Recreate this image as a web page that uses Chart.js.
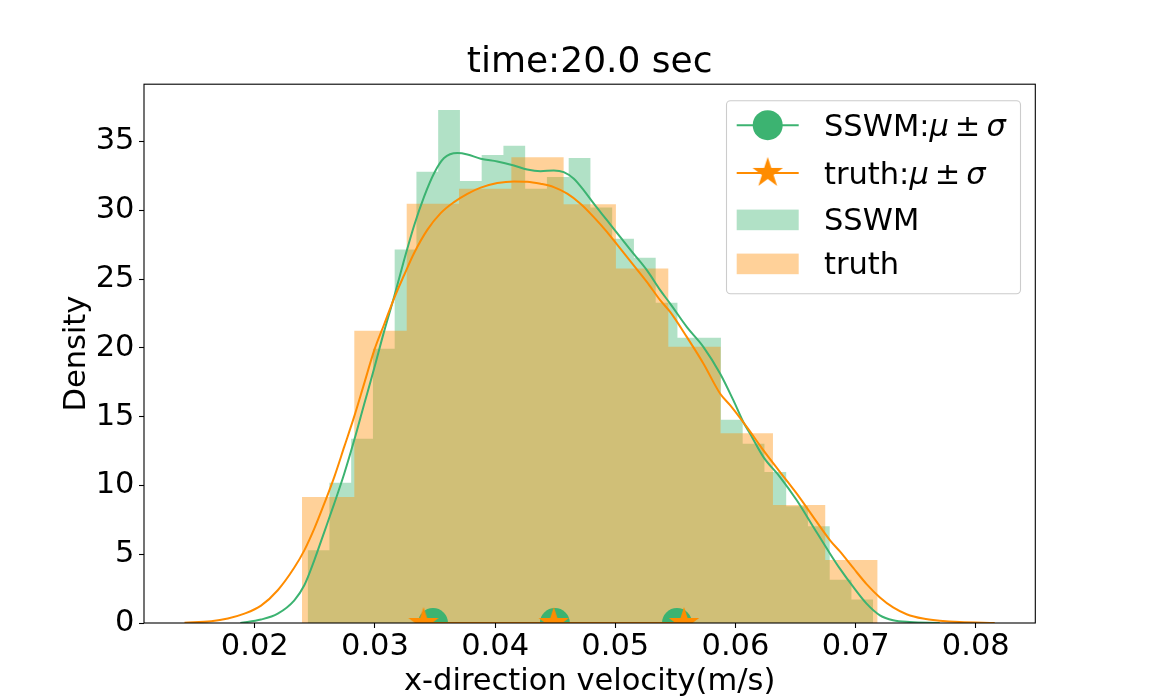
<!DOCTYPE html>
<html>
<head>
<meta charset="utf-8">
<title>time:20.0 sec</title>
<script src="https://cdn.jsdelivr.net/npm/chart.js@4.4.0/dist/chart.umd.min.js"></script>
<style>
html, body { margin: 0; padding: 0; background: #fff; }
#wrap { width: 1150px; height: 700px; }
</style>
</head>
<body>
<div id="wrap"><canvas id="chart" width="1150" height="700"></canvas></div>
<script>
// histogram bin edges and densities
var sswmEdges = [0.02440, 0.02621, 0.02802, 0.02983, 0.03164, 0.03345, 0.03526, 0.03707, 0.03888,
                 0.04069, 0.04250, 0.04431, 0.04612, 0.04793, 0.04974, 0.05155, 0.05336, 0.05517,
                 0.05698, 0.05879, 0.06060, 0.06241, 0.06422, 0.06603, 0.06784, 0.06965, 0.07146];
var sswmDensity = [5.28, 10.20, 13.39, 19.93, 27.15, 32.80, 37.30, 32.14, 34.03, 34.69, 31.57, 32.43, 33.80,
                   30.20, 27.93, 26.55, 23.28, 20.74, 20.74, 14.78, 13.03, 10.97, 8.48, 7.03, 3.15, 1.70];
var truthEdges = [0.02393, 0.02828, 0.03264, 0.03699, 0.04135, 0.04570, 0.05005, 0.05441,
                  0.05876, 0.06312, 0.06747, 0.07183];
var truthDensity = [9.16, 21.25, 30.47, 31.57, 33.86, 30.45, 25.78, 20.08, 13.79, 8.58, 4.58];

// kde curves
var sswmKdeX = [0.01880, 0.02052, 0.02191, 0.02329, 0.02412, 0.02495, 0.02578, 0.02661, 0.02744, 0.02827,
                0.02910, 0.02993, 0.03076, 0.03159, 0.03243, 0.03326, 0.03409, 0.03492, 0.03575, 0.03686,
                0.03769, 0.03880, 0.04018, 0.04156, 0.04267, 0.04378, 0.04488, 0.04571, 0.04655, 0.04738,
                0.04821, 0.04932, 0.05042, 0.05153, 0.05264, 0.05375, 0.05458, 0.05596, 0.05734, 0.05873,
                0.05983, 0.06066, 0.06122, 0.06233, 0.06371, 0.06510, 0.06648, 0.06787, 0.06869, 0.06980,
                0.07091, 0.07202, 0.07312, 0.07451, 0.07700];
var sswmKdeY = [0.00, 0.25, 0.68, 1.65, 2.74, 4.56, 6.61, 8.68, 10.85, 13.28,
                15.90, 18.50, 21.20, 23.70, 26.40, 28.90, 31.00, 32.70, 33.80, 34.16,
                34.06, 33.75, 33.55, 33.26, 32.97, 32.85, 32.90, 32.78, 32.30, 31.45,
                30.48, 29.27, 28.05, 26.84, 25.63, 24.18, 23.20, 21.51, 20.06, 18.12,
                16.18, 14.60, 13.76, 12.06, 10.61, 8.92, 6.98, 5.04, 3.95, 2.62,
                1.41, 0.56, 0.20, 0.07, 0.00];
var truthKdeX = [0.01415, 0.01637, 0.01776, 0.01914, 0.02052, 0.02191, 0.02329, 0.02412, 0.02495, 0.02578,
                 0.02661, 0.02744, 0.02827, 0.02910, 0.02993, 0.03076, 0.03159, 0.03243, 0.03326, 0.03437,
                 0.03547, 0.03658, 0.03769, 0.03880, 0.04018, 0.04156, 0.04267, 0.04378, 0.04488, 0.04600,
                 0.04710, 0.04821, 0.04932, 0.05042, 0.05153, 0.05264, 0.05375, 0.05458, 0.05596, 0.05734,
                 0.05873, 0.05957, 0.06095, 0.06233, 0.06371, 0.06510, 0.06648, 0.06787, 0.06869, 0.06980,
                 0.07091, 0.07202, 0.07312, 0.07424, 0.07561, 0.07700, 0.07866, 0.08157];
var truthKdeY = [0.02, 0.13, 0.33, 0.68, 1.26, 2.38, 4.03, 5.28, 6.86, 8.68,
                 10.61, 12.80, 15.00, 17.40, 19.80, 21.70, 23.60, 25.30, 26.90, 28.60,
                 29.80, 30.60, 31.20, 31.65, 31.98, 32.10, 32.08, 31.93, 31.69, 31.21,
                 30.48, 29.51, 28.42, 27.21, 26.00, 24.78, 23.45, 22.60, 20.78, 18.85,
                 16.67, 15.82, 14.24, 12.55, 10.97, 9.40, 7.70, 6.01, 5.20, 4.00,
                 2.83, 1.86, 1.13, 0.64, 0.32, 0.17, 0.07, 0.00];

// mean - sd, mean, mean + sd
var sswmStats = [0.03483, 0.04497, 0.05513];
var truthStats = [0.03404, 0.04488, 0.05572];

var xTicks = [0.02, 0.03, 0.04, 0.05, 0.06, 0.07, 0.08];
var yTicks = [0, 5, 10, 15, 20, 25, 30, 35];

var GREEN = '#3cb371', ORANGE = '#ff8c00';
var FONT = 'DejaVu Sans';

function histPoints(edges, dens) {
    return edges.map(function (e, i) { return {x: e, y: i < dens.length ? dens[i] : 0}; });
}
function xyPoints(xs, ys) {
    return xs.map(function (x, i) { return {x: x, y: ys[i]}; });
}
function statPoints(vals) {
    return vals.map(function (v) { return {x: v, y: 0}; });
}

// filled five point star like matplotlib's '*'
function makeStar(r, color) {
    var c = document.createElement('canvas');
    var size = Math.ceil(r * 2) + 2;
    c.width = size; c.height = size;
    var g = c.getContext('2d');
    g.fillStyle = color;
    g.beginPath();
    for (var i = 0; i < 10; i++) {
        var rad = i % 2 === 0 ? r : r * 0.381966;
        var a = -Math.PI / 2 + i * Math.PI / 5;
        var px = size / 2 + rad * Math.cos(a), py = size / 2 + rad * Math.sin(a);
        if (i === 0) g.moveTo(px, py); else g.lineTo(px, py);
    }
    g.closePath();
    g.fill();
    return c;
}
var starImg = makeStar(16, ORANGE);

// axes frame on all four sides
var framePlugin = {
    id: 'frame',
    afterDatasetsDraw: function (chart) {
        var a = chart.chartArea, ctx = chart.ctx;
        ctx.save();
        ctx.strokeStyle = '#000';
        ctx.lineWidth = 1.1;
        ctx.strokeRect(a.left, a.top, a.right - a.left, a.bottom - a.top);
        ctx.restore();
    }
};

function drawLabel(ctx, text, x, y) {
    var parts = text.split(':');
    ctx.font = '30.5px "' + FONT + '"';
    ctx.fillText(parts.length > 1 ? parts[0] + ':' : text, x, y);
    if (parts.length < 2) return;
    x += ctx.measureText(parts[0] + ':').width;
    parts[1].split('').forEach(function (ch) {
        if (ch === '±') {
            ctx.font = '30.5px "' + FONT + '"';
            x += 6;
            ctx.fillText(ch, x, y);
            x += ctx.measureText(ch).width + 6;
        } else {
            ctx.font = 'italic 30.5px "' + FONT + '"';
            ctx.fillText(ch, x, y);
            x += ctx.measureText(ch).width;
        }
    });
}

// matplotlib style legend inside the axes
var legendPlugin = {
    id: 'mplLegend',
    afterDraw: function (chart) {
        var ctx = chart.ctx, a = chart.chartArea;
        var ds = chart.data.datasets;
        var right = a.right - 15.3, left = right - 294, top = a.top + 16, h = 193;
        ctx.save();
        ctx.beginPath();
        ctx.roundRect(left + 0.5, top + 0.5, right - left, h, 4);
        ctx.fillStyle = 'rgba(255,255,255,0.8)';
        ctx.fill();
        ctx.strokeStyle = '#cccccc';
        ctx.lineWidth = 1.1;
        ctx.stroke();

        var rows = [
            {ds: ds[3], cy: 25, base: 35.5, kind: 'circle'},
            {ds: ds[5], cy: 72.7, base: 84, kind: 'star'},
            {ds: ds[0], cy: 119.7, base: 130, kind: 'patch'},
            {ds: ds[1], cy: 163.7, base: 173.5, kind: 'patch'}
        ];
        var hx0 = left + 10.7, hx1 = left + 72.7, hxc = (hx0 + hx1) / 2;
        rows.forEach(function (r) {
            var cy = top + r.cy;
            if (r.kind === 'patch') {
                ctx.fillStyle = r.ds.backgroundColor;
                ctx.fillRect(hx0, cy - 10.3, hx1 - hx0, 20.6);
            } else {
                ctx.strokeStyle = r.ds.borderColor;
                ctx.lineWidth = 2;
                ctx.beginPath();
                ctx.moveTo(hx0, cy);
                ctx.lineTo(hx1, cy);
                ctx.stroke();
                if (r.kind === 'circle') {
                    ctx.fillStyle = r.ds.pointBackgroundColor;
                    ctx.beginPath();
                    ctx.arc(hxc, cy, 15, 0, Math.PI * 2);
                    ctx.fill();
                } else {
                    ctx.drawImage(starImg, hxc - starImg.width / 2, cy - starImg.height / 2);
                }
            }
            ctx.fillStyle = '#000';
            ctx.textBaseline = 'alphabetic';
            ctx.textAlign = 'left';
            drawLabel(ctx, r.ds.label, left + 98, top + r.base);
        });
        ctx.restore();
    }
};

Chart.defaults.font.family = FONT;
Chart.defaults.color = '#000';

var tickFont = {family: FONT, size: 30.5};

var chart = new Chart(document.getElementById('chart'), {
    type: 'line',
    data: {
        datasets: [
            {
                label: 'SSWM', data: histPoints(sswmEdges, sswmDensity), stepped: true,
                fill: 'origin', backgroundColor: 'rgba(60,179,113,0.4)', borderColor: 'rgba(0,0,0,0)',
                borderWidth: 0, pointRadius: 0, clip: 0, order: 6
            },
            {
                label: 'truth', data: histPoints(truthEdges, truthDensity), stepped: true,
                fill: 'origin', backgroundColor: 'rgba(255,140,0,0.4)', borderColor: 'rgba(0,0,0,0)',
                borderWidth: 0, pointRadius: 0, clip: 0, order: 5
            },
            {
                label: 'SSWM kde', data: xyPoints(sswmKdeX, sswmKdeY), borderColor: GREEN, borderWidth: 2,
                cubicInterpolationMode: 'monotone', pointRadius: 0, fill: false, clip: 0, order: 4
            },
            {
                label: 'SSWM:μ±σ', data: statPoints(sswmStats), borderColor: GREEN, borderWidth: 2,
                pointStyle: 'circle', pointRadius: 15, pointBackgroundColor: GREEN, pointBorderWidth: 0,
                fill: false, clip: 0, order: 3
            },
            {
                label: 'truth kde', data: xyPoints(truthKdeX, truthKdeY), borderColor: ORANGE, borderWidth: 2,
                cubicInterpolationMode: 'monotone', pointRadius: 0, fill: false, clip: 0, order: 2
            },
            {
                label: 'truth:μ±σ', data: statPoints(truthStats), borderColor: ORANGE, borderWidth: 2,
                pointStyle: starImg, pointRadius: 16, pointBackgroundColor: ORANGE, pointBorderWidth: 0,
                fill: false, clip: 0, order: 1
            }
        ]
    },
    options: {
        responsive: false,
        animation: false,
        events: [],
        layout: {padding: {left: 0, right: 114.7, top: 0, bottom: 0}},
        plugins: {
            legend: {display: false},
            tooltip: {enabled: false},
            title: {
                display: true, text: 'time:20.0 sec', color: '#000', fullSize: false,
                font: {family: FONT, size: 36, weight: 'normal'},
                padding: {top: 41, bottom: 0}
            }
        },
        scales: {
            x: {
                type: 'linear', min: 0.01078, max: 0.08495,
                afterBuildTicks: function (s) { s.ticks = xTicks.map(function (v) { return {value: v}; }); },
                afterFit: function (s) { s.height = 77; },
                grid: {display: true, drawOnChartArea: false, drawTicks: true, tickLength: 5,
                       tickColor: '#000', tickWidth: 1.1},
                border: {display: false},
                ticks: {color: '#000', font: tickFont, padding: 1, maxRotation: 0, autoSkip: false,
                        callback: function (v) { return v.toFixed(2); }},
                title: {display: true, text: 'x-direction velocity(m/s)', color: '#000', font: tickFont,
                        padding: {top: 0, bottom: 0}}
            },
            y: {
                type: 'linear', min: 0, max: 39.17,
                afterBuildTicks: function (s) { s.ticks = yTicks.map(function (v) { return {value: v}; }); },
                afterFit: function (s) { s.width = 144; },
                grid: {display: true, drawOnChartArea: false, drawTicks: true, tickLength: 5,
                       tickColor: '#000', tickWidth: 1.1},
                border: {display: false},
                ticks: {color: '#000', font: tickFont, padding: 4.5, autoSkip: false,
                        callback: function (v) { return String(v); }},
                title: {display: true, text: 'Density', color: '#000', font: tickFont,
                        padding: {top: 58.7, bottom: 0}}
            }
        }
    },
    plugins: [framePlugin, legendPlugin]
});
</script>
</body>
</html>
